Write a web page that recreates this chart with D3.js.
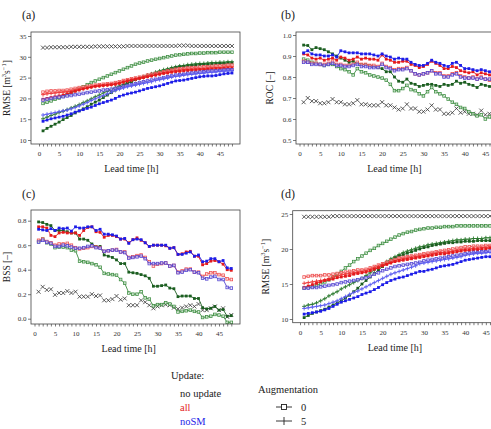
<!DOCTYPE html>
<html lang="en">
<head>
<meta charset="UTF-8">
<title>Skill vs lead time</title>
<script src="https://d3js.org/d3.v7.min.js"></script>
<style>
  body { margin: 0; background: #fff; }
  svg, svg text { font-family: "Liberation Serif", serif; }
</style>
</head>
<body>
<div id="chart"></div>
<script>
// lead time in hours
const leadTime = d3.range(1, 49);

// ---- (a) RMSE ----
const blackA = [32.2,32.2,32.3,32.3,32.3,32.3,32.3,32.4, 32.4,32.4,32.4,32.4,32.4,32.5,32.5,32.5,
  32.5,32.5,32.5,32.5,32.5,32.6,32.6,32.6, 32.6,32.6,32.6,32.6,32.6,32.6,32.6,32.6,
  32.6,32.6,32.7,32.7,32.7,32.6,32.6,32.6, 32.6,32.6,32.6,32.6,32.6,32.6,32.6,32.6];
const greenSqA = [18.8,19.1,19.4,19.8,20.1,20.5,20.9,21.4, 21.9,22.3,22.8,23.3,23.8,24.2,24.6,25.0,
  25.4,25.8,26.2,26.6,27.0,27.4,27.8,28.2, 28.5,28.7,29.0,29.2,29.4,29.6,29.8,30.0,
  30.2,30.4,30.5,30.6,30.7,30.8,30.8,30.9, 30.9,31.0,31.0,31.0,31.1,31.1,31.1,31.1];
const greenPlusA = [15.1,15.5,15.9,16.2,16.6,16.9,17.3,17.7, 18.1,18.5,19.0,19.4,19.9,20.4,20.8,21.3,
  21.7,22.1,22.6,23.0,23.4,23.8,24.2,24.6, 24.9,25.2,25.6,25.9,26.3,26.6,26.9,27.1,
  27.4,27.6,27.8,27.9,28.1,28.2,28.3,28.4, 28.4,28.5,28.6,28.6,28.7,28.7,28.8,28.8];
const darkGreenA = [12.2,12.8,13.3,13.8,14.3,14.9,15.4,15.9, 16.5,17.0,17.5,18.0,18.6,19.1,19.6,20.2,
  20.8,21.4,22.0,22.6,23.1,23.6,24.0,24.5, 24.9,25.2,25.5,25.8,26.0,26.3,26.5,26.8,
  27.1,27.4,27.6,27.7,27.8,27.9,28.0,28.1, 28.2,28.2,28.3,28.3,28.4,28.4,28.5,28.5];
const redSqA = [21.5,21.7,21.8,21.8,21.9,21.9,22.0,22.2, 22.4,22.6,22.7,22.9,23.0,23.2,23.3,23.4,
  23.5,23.6,23.8,24.0,24.3,24.5,24.7,24.9, 25.1,25.3,25.6,25.8,26.0,26.2,26.4,26.6,
  26.8,27.0,27.1,27.2,27.3,27.4,27.4,27.5, 27.6,27.6,27.7,27.8,27.8,27.9,28.0,28.0];
const redPlusA = [20.9,21.1,21.2,21.3,21.4,21.5,21.6,21.8, 22.0,22.2,22.3,22.5,22.7,22.9,23.0,23.1,
  23.2,23.3,23.5,23.7,24.0,24.2,24.4,24.6, 24.8,25.0,25.3,25.5,25.7,25.9,26.1,26.3,
  26.5,26.7,26.8,26.9,27.0,27.0,27.1,27.1, 27.2,27.3,27.3,27.4,27.4,27.5,27.6,27.6];
const redFillA = [19.8,20.0,20.2,20.4,20.6,20.8,21.1,21.4, 21.7,22.0,22.3,22.5,22.7,22.9,23.0,23.1,
  23.2,23.3,23.4,23.6,23.9,24.2,24.4,24.6, 24.8,25.0,25.2,25.4,25.6,25.8,26.0,26.1,
  26.3,26.4,26.5,26.6,26.7,26.8,26.8,26.9, 26.9,27.0,27.0,27.1,27.1,27.2,27.2,27.2];
const blueSqA = [19.6,19.8,20.0,20.2,20.3,20.4,20.6,20.7, 20.9,21.0,21.2,21.4,21.5,21.7,21.8,22.0,
  22.1,22.2,22.4,22.6,22.9,23.1,23.3,23.5, 23.8,24.0,24.2,24.4,24.6,24.8,25.0,25.2,
  25.4,25.6,25.7,25.8,26.0,26.1,26.2,26.3, 26.4,26.5,26.6,26.6,26.7,26.8,26.9,26.9];
const bluePlusA = [16.0,16.2,16.4,16.6,16.8,17.0,17.2,17.5, 17.8,18.2,18.6,19.0,19.5,19.9,20.3,20.7,
  21.1,21.5,21.9,22.2,22.5,22.8,23.0,23.2, 23.4,23.6,23.8,24.0,24.3,24.5,24.7,24.9,
  25.1,25.3,25.4,25.6,25.7,25.8,25.9,26.0, 26.1,26.2,26.3,26.4,26.5,26.6,26.6,26.7];
const blueFillA = [14.5,14.8,15.1,15.3,15.5,15.7,16.0,16.3, 16.7,17.0,17.3,17.6,17.9,18.3,18.7,19.0,
  19.3,19.6,20.0,20.5,20.8,21.1,21.3,21.5, 21.8,22.1,22.4,22.6,22.8,23.0,23.3,23.6,
  23.9,24.2,24.3,24.4,24.6,24.8,25.0,25.2, 25.3,25.4,25.4,25.5,25.7,25.9,26.0,26.1];

// ---- (b) ROC ----
const blackB = [0.68,0.70,0.685,0.685,0.675,0.675,0.68,0.695, 0.68,0.68,0.67,0.67,0.675,0.69,0.67,0.67,
  0.665,0.665,0.665,0.68,0.665,0.665,0.655,0.645, 0.65,0.67,0.65,0.65,0.635,0.635,0.645,0.665,
  0.645,0.645,0.625,0.625,0.63,0.65,0.63,0.635, 0.625,0.625,0.62,0.64,0.62,0.625,0.63,0.62];
const darkGreenB = [0.952,0.95,0.93,0.94,0.935,0.93,0.92,0.91, 0.90,0.89,0.88,0.87,0.875,0.865,0.86,0.86,
  0.855,0.85,0.845,0.84,0.825,0.825,0.80,0.78, 0.775,0.79,0.77,0.765,0.755,0.76,0.765,0.765,
  0.76,0.755,0.765,0.76,0.765,0.78,0.77,0.775, 0.765,0.76,0.75,0.765,0.76,0.755,0.75,0.75];
const greenSqB = [0.885,0.88,0.87,0.865,0.86,0.855,0.86,0.86, 0.85,0.84,0.835,0.825,0.81,0.84,0.825,0.82,
  0.81,0.805,0.80,0.795,0.785,0.765,0.735,0.735, 0.745,0.76,0.74,0.735,0.72,0.71,0.73,0.75,
  0.73,0.72,0.71,0.695,0.68,0.67,0.655,0.65, 0.635,0.625,0.615,0.62,0.60,0.61,0.59,0.585];
const redSqB = [0.875,0.87,0.865,0.865,0.86,0.86,0.865,0.875, 0.86,0.86,0.855,0.855,0.86,0.87,0.86,0.86,
  0.855,0.855,0.85,0.865,0.85,0.845,0.835,0.84, 0.84,0.845,0.83,0.815,0.81,0.815,0.82,0.83,
  0.82,0.82,0.805,0.805,0.815,0.82,0.805,0.80, 0.795,0.80,0.79,0.80,0.79,0.785,0.775,0.77];
const redFillB = [0.91,0.905,0.89,0.885,0.89,0.88,0.885,0.89, 0.88,0.895,0.89,0.88,0.885,0.895,0.885,0.89,
  0.885,0.885,0.88,0.905,0.885,0.88,0.87,0.87, 0.875,0.875,0.86,0.855,0.845,0.85,0.86,0.875,
  0.865,0.855,0.84,0.84,0.85,0.845,0.83,0.825, 0.82,0.825,0.81,0.82,0.815,0.81,0.80,0.80];
const blueSqB = [0.87,0.87,0.86,0.86,0.86,0.855,0.86,0.865, 0.855,0.855,0.85,0.85,0.855,0.86,0.85,0.85,
  0.845,0.845,0.845,0.86,0.845,0.84,0.83,0.835, 0.835,0.84,0.83,0.815,0.81,0.815,0.82,0.83,
  0.815,0.815,0.80,0.80,0.81,0.815,0.80,0.795, 0.795,0.795,0.79,0.795,0.79,0.79,0.785,0.785];
const blueFillB = [0.915,0.925,0.91,0.905,0.905,0.90,0.90,0.905, 0.895,0.925,0.92,0.915,0.915,0.915,0.91,0.91,
  0.91,0.905,0.90,0.91,0.90,0.895,0.885,0.89, 0.885,0.885,0.87,0.86,0.855,0.855,0.865,0.88,
  0.87,0.865,0.855,0.85,0.865,0.87,0.855,0.84, 0.84,0.835,0.83,0.835,0.83,0.825,0.82,0.82];

// ---- (c) BSS ----
const blackC = [0.22,0.26,0.235,0.24,0.195,0.21,0.21,0.225, 0.21,0.22,0.18,0.18,0.18,0.20,0.185,0.19,
  0.15,0.15,0.16,0.185,0.155,0.165,0.11,0.11, 0.11,0.15,0.135,0.11,0.085,0.10,0.11,0.115,
  0.11,0.09,0.08,0.09,0.10,0.11,0.10,0.12, 0.07,0.07,0.085,0.10,0.07,0.085,0.015,0.03];
const darkGreenC = [0.79,0.785,0.77,0.76,0.72,0.72,0.72,0.71, 0.70,0.70,0.65,0.65,0.64,0.61,0.59,0.59,
  0.52,0.51,0.50,0.48,0.45,0.45,0.38,0.375, 0.37,0.36,0.35,0.33,0.265,0.265,0.27,0.275,
  0.25,0.245,0.18,0.185,0.185,0.185,0.165,0.165, 0.09,0.08,0.085,0.10,0.07,0.075,0.02,0.025];
const greenSqC = [0.63,0.65,0.62,0.61,0.58,0.585,0.585,0.58, 0.56,0.555,0.47,0.465,0.46,0.45,0.44,0.42,
  0.37,0.365,0.36,0.355,0.32,0.29,0.21,0.20, 0.20,0.22,0.17,0.16,0.105,0.115,0.115,0.13,
  0.12,0.10,0.055,0.06,0.065,0.07,0.06,0.055, 0.01,0.015,0.02,0.035,0.03,0.02,-0.03,-0.03];
const redSqC = [0.64,0.65,0.63,0.62,0.60,0.61,0.61,0.615, 0.60,0.58,0.57,0.575,0.58,0.59,0.585,0.58,
  0.55,0.555,0.56,0.565,0.545,0.545,0.50,0.505, 0.515,0.52,0.50,0.465,0.43,0.445,0.45,0.455,
  0.43,0.435,0.38,0.39,0.405,0.405,0.38,0.38, 0.345,0.365,0.375,0.375,0.36,0.355,0.325,0.32];
const redFillC = [0.75,0.75,0.74,0.68,0.67,0.70,0.705,0.70, 0.70,0.70,0.68,0.72,0.745,0.75,0.71,0.705,
  0.665,0.68,0.68,0.67,0.65,0.65,0.62,0.645, 0.66,0.64,0.62,0.59,0.60,0.60,0.60,0.595,
  0.575,0.58,0.525,0.53,0.545,0.55,0.51,0.51, 0.44,0.45,0.47,0.475,0.465,0.445,0.40,0.395];
const blueSqC = [0.625,0.64,0.625,0.615,0.59,0.59,0.60,0.595, 0.585,0.575,0.575,0.58,0.59,0.595,0.58,0.575,
  0.55,0.555,0.56,0.56,0.545,0.54,0.495,0.50, 0.505,0.51,0.49,0.45,0.45,0.45,0.455,0.455,
  0.43,0.435,0.375,0.38,0.395,0.40,0.38,0.375, 0.33,0.325,0.34,0.345,0.32,0.32,0.255,0.25];
const blueFillC = [0.73,0.725,0.72,0.735,0.72,0.74,0.735,0.74, 0.715,0.75,0.74,0.74,0.75,0.75,0.72,0.73,
  0.69,0.69,0.685,0.675,0.65,0.655,0.615,0.645, 0.65,0.645,0.62,0.59,0.60,0.60,0.60,0.60,
  0.575,0.58,0.525,0.525,0.535,0.545,0.51,0.52, 0.465,0.47,0.49,0.49,0.465,0.475,0.415,0.41];

// ---- (d) RMSE ----
const blackD = [24.6,24.6,24.6,24.6,24.6,24.6,24.6,24.7, 24.7,24.7,24.7,24.7,24.7,24.7,24.7,24.7,
  24.7,24.7,24.7,24.7,24.7,24.7,24.7,24.7, 24.7,24.7,24.7,24.7,24.7,24.7,24.7,24.7,
  24.7,24.7,24.7,24.7,24.7,24.7,24.7,24.7, 24.7,24.7,24.7,24.7,24.7,24.7,24.7,24.7];
const greenSqD = [14.4,14.5,14.6,14.8,15.0,15.3,15.6,16.0, 16.4,16.8,17.3,17.7,18.2,18.6,19.0,19.4,
  19.8,20.1,20.5,20.8,21.1,21.4,21.7,22.0, 22.2,22.4,22.5,22.7,22.8,22.9,23.0,23.0,
  23.1,23.1,23.2,23.2,23.2,23.3,23.3,23.3, 23.3,23.3,23.3,23.3,23.3,23.3,23.3,23.3];
const greenPlusD = [11.8,12.0,12.1,12.3,12.6,12.9,13.3,13.6, 13.9,14.3,14.6,14.9,15.2,15.5,15.8,16.2,
  16.6,17.0,17.4,17.8,18.2,18.6,18.9,19.2, 19.5,19.7,19.9,20.1,20.3,20.4,20.6,20.7,
  20.8,20.9,21.0,21.1,21.2,21.3,21.3,21.4, 21.4,21.5,21.5,21.5,21.6,21.6,21.6,21.6];
const darkGreenD = [10.2,10.5,10.8,11.0,11.2,11.4,11.7,12.0, 12.3,12.6,13.0,13.4,13.9,14.4,15.0,15.5,
  16.0,16.5,17.0,17.5,17.9,18.3,18.7,19.0, 19.2,19.4,19.6,19.8,20.0,20.2,20.3,20.5,
  20.6,20.7,20.8,20.9,20.9,21.0,21.0,21.1, 21.1,21.1,21.2,21.2,21.2,21.2,21.2,21.2];
const redSqD = [16.0,16.1,16.2,16.2,16.2,16.3,16.3,16.4, 16.5,16.6,16.7,16.8,16.9,17.0,17.0,17.1,
  17.3,17.5,17.7,17.9,18.1,18.3,18.5,18.7, 18.8,18.9,19.0,19.1,19.2,19.3,19.4,19.5,
  19.6,19.7,19.8,19.9,20.0,20.1,20.2,20.3, 20.3,20.4,20.4,20.4,20.5,20.5,20.5,20.5];
const redPlusD = [15.1,15.2,15.3,15.4,15.5,15.6,15.8,16.0, 16.1,16.3,16.4,16.5,16.6,16.7,16.8,16.9,
  17.1,17.3,17.5,17.7,17.9,18.1,18.3,18.5, 18.6,18.7,18.8,18.9,19.0,19.1,19.2,19.3,
  19.4,19.5,19.5,19.6,19.7,19.8,19.9,20.0, 20.0,20.1,20.1,20.2,20.2,20.3,20.3,20.3];
const redFillD = [14.5,14.7,14.9,15.1,15.3,15.5,15.6,15.7, 15.9,16.0,16.1,16.2,16.4,16.5,16.6,16.7,
  16.9,17.1,17.3,17.6,17.8,18.0,18.2,18.3, 18.4,18.5,18.6,18.7,18.8,18.9,19.0,19.1,
  19.2,19.3,19.3,19.4,19.5,19.6,19.7,19.8, 19.8,19.9,19.9,20.0,20.0,20.1,20.1,20.1];
const blueSqD = [14.4,14.4,14.5,14.5,14.6,14.7,14.8,14.9, 15.0,15.2,15.3,15.4,15.5,15.6,15.8,15.9,
  16.1,16.4,16.6,16.9,17.1,17.3,17.5,17.6, 17.7,17.8,17.9,18.0,18.1,18.3,18.4,18.5,
  18.6,18.7,18.8,18.9,19.0,19.1,19.2,19.3, 19.4,19.5,19.5,19.6,19.6,19.7,19.7,19.8];
const bluePlusD = [11.5,11.6,11.7,11.8,11.9,12.0,12.2,12.4, 12.6,12.9,13.2,13.5,13.8,14.0,14.3,14.6,
  14.9,15.2,15.5,15.8,16.1,16.4,16.6,16.8, 17.0,17.2,17.4,17.6,17.9,18.0,18.1,18.2,
  18.3,18.4,18.5,18.6,18.7,18.8,18.9,19.1, 19.2,19.3,19.4,19.4,19.5,19.5,19.6,19.6];
const blueFillD = [10.7,10.8,10.9,11.0,11.1,11.3,11.5,11.8, 12.1,12.4,12.6,12.8,13.0,13.2,13.5,13.7,
  13.9,14.2,14.5,14.9,15.2,15.5,15.7,15.9, 16.0,16.2,16.4,16.6,16.8,16.8,17.0,17.1,
  17.3,17.5,17.6,17.7,17.8,18.0,18.2,18.4, 18.5,18.6,18.7,18.8,18.9,18.9,19.0,19.0];

// legend entries
const updateNames = ["no update", "all", "noSM"];
const augLevels = ["0", "5"];

var FONT = "Liberation Serif, serif";

// colours / marker per series kind
var style = {
  black:     {color: "#333333", marker: "x",      line: false},
  greenSq:   {color: "#3f8f43", marker: "square", line: true},
  greenPlus: {color: "#2d7a30", marker: "plus",   line: true},
  darkGreen: {color: "#1b5e20", marker: "fill",   line: true},
  redSq:     {color: "#ee5050", marker: "square", line: true},
  redPlus:   {color: "#ee3a3a", marker: "plus",   line: true},
  redFill:   {color: "#e41a1c", marker: "fill",   line: true},
  blueSq:    {color: "#5546d2", marker: "square", line: true},
  bluePlus:  {color: "#5c5cf0", marker: "plus",   line: true},
  blueFill:  {color: "#1c1ce8", marker: "fill",   line: true}
};

var panels = [
  {label: "(a)", lx: 22, ly: 19, box: [31, 32, 240, 144], x0: 39, ppu: 4.02,
   yTicks: [10, 15, 20, 25, 30, 35], yPix: [140, 36], fmt: d3.format("d"), ytitle: "rmse", ytx: 10,
   series: [["black", blackA], ["greenSq", greenSqA], ["greenPlus", greenPlusA], ["darkGreen", darkGreenA],
            ["redSq", redSqA], ["redPlus", redPlusA], ["redFill", redFillA],
            ["blueSq", blueSqA], ["bluePlus", bluePlusA], ["blueFill", blueFillA]]},
  {label: "(b)", lx: 281, ly: 19, box: [296, 32, 506, 144], x0: 299.5, ppu: 4.13,
   yTicks: [0.5, 0.6, 0.7, 0.8, 0.9, 1.0], yPix: [140, 35], fmt: d3.format(".1f"), ytitle: "ROC [\u2013]", ytx: 273,
   series: [["black", blackB], ["greenSq", greenSqB], ["darkGreen", darkGreenB],
            ["redSq", redSqB], ["redFill", redFillB], ["blueSq", blueSqB], ["blueFill", blueFillB]]},
  {label: "(c)", lx: 22, ly: 198, box: [31, 210, 240, 324], x0: 34.5, ppu: 4.1,
   yTicks: [0.0, 0.2, 0.4, 0.6, 0.8], yPix: [318.7, 220.7], fmt: d3.format(".1f"), ytitle: "BSS [\u2013]", ytx: 10,
   series: [["black", blackC], ["greenSq", greenSqC], ["darkGreen", darkGreenC],
            ["redSq", redSqC], ["redFill", redFillC], ["blueSq", blueSqC], ["blueFill", blueFillC]]},
  {label: "(d)", lx: 281, ly: 198, box: [292.7, 210.7, 506, 322.7], x0: 300, ppu: 4.13,
   yTicks: [10, 15, 20, 25], yPix: [319, 214], fmt: d3.format("d"), ytitle: "rmse", ytx: 269,
   series: [["black", blackD], ["greenSq", greenSqD], ["greenPlus", greenPlusD], ["darkGreen", darkGreenD],
            ["redSq", redSqD], ["redPlus", redPlusD], ["redFill", redFillD],
            ["blueSq", blueSqD], ["bluePlus", bluePlusD], ["blueFill", blueFillD]]}
];

const svg = d3.select("#chart").append("svg")
  .attr("width", 491)
  .attr("height", 429)
  .attr("font-family", FONT);

function drawMarker(sel, kind, color) {
  if (kind === "square") {
    sel.append("rect").attr("x", -1.3).attr("y", -1.3).attr("width", 2.6).attr("height", 2.6)
      .attr("fill", "#fff").attr("fill-opacity", 0.5).attr("stroke", color).attr("stroke-width", 0.8);
  } else if (kind === "plus") {
    sel.append("path").attr("d", "M-2,0H2M0,-2V2")
      .attr("stroke", color).attr("stroke-width", 0.9).attr("fill", "none");
  } else if (kind === "fill") {
    sel.append("rect").attr("x", -1.4).attr("y", -1.4).attr("width", 2.8).attr("height", 2.8)
      .attr("fill", color);
  } else {
    sel.append("path").attr("d", "M-2,-2L2,2M-2,2L2,-2")
      .attr("stroke", color).attr("stroke-width", 0.8).attr("fill", "none");
  }
}

panels.forEach(function(p, pi) {
  var b = p.box;
  var x = d3.scaleLinear().domain([0, 45]).range([p.x0, p.x0 + 45 * p.ppu]);
  var y = d3.scaleLinear().domain([p.yTicks[0], p.yTicks[p.yTicks.length - 1]]).range(p.yPix);

  var g = svg.append("g");

  // panel letter
  g.append("text").attr("x", p.lx).attr("y", p.ly)
    .attr("font-size", 12).attr("fill", "#222").text(p.label);

  g.append("clipPath").attr("id", "clip" + pi)
    .append("rect").attr("x", b[0]).attr("y", b[1]).attr("width", b[2] - b[0]).attr("height", b[3] - b[1]);

  // y axis
  var ya = g.append("g").attr("transform", "translate(" + b[0] + ",0)")
    .call(d3.axisLeft(y).tickValues(p.yTicks).tickSize(3).tickPadding(1.5).tickFormat(p.fmt));
  ya.attr("font-family", FONT);
  ya.select(".domain").remove();
  ya.selectAll("text").attr("font-size", 7).attr("fill", "#333");
  ya.selectAll("line").attr("stroke", "#444").attr("stroke-width", 0.7);

  // x axis: a tick every hour, label every 5 h
  var xa = g.append("g").attr("transform", "translate(0," + b[3] + ")")
    .call(d3.axisBottom(x).tickValues(d3.range(0, 49)).tickSize(2.5).tickPadding(5)
      .tickFormat(d => (d % 5 === 0 && d <= 45) ? d : ""));
  xa.attr("font-family", FONT);
  xa.select(".domain").remove();
  xa.selectAll("text").attr("font-size", 7).attr("fill", "#333");
  xa.selectAll("line").attr("stroke", "#444").attr("stroke-width", 0.7);

  g.append("text").attr("x", (p.x0 + p.x0 + 45 * p.ppu) / 2 + 2).attr("y", b[3] + 28)
    .attr("text-anchor", "middle").attr("font-size", 10).attr("fill", "#222").text("Lead time [h]");

  // y title
  var yt = g.append("text")
    .attr("transform", "translate(" + p.ytx + "," + ((b[1] + b[3]) / 2) + ") rotate(-90)")
    .attr("text-anchor", "middle").attr("font-size", 9.5).attr("fill", "#222");
  if (p.ytitle === "rmse") {
    yt.append("tspan").text("RMSE [m");
    yt.append("tspan").attr("font-size", 6.5).attr("dy", -4).text("3");
    yt.append("tspan").attr("dy", 4).text("s");
    yt.append("tspan").attr("font-size", 6.5).attr("dy", -4).text("\u22121");
    yt.append("tspan").attr("dy", 4).text("]");
  } else {
    yt.text(p.ytitle);
  }

  // series
  var plot = g.append("g").attr("clip-path", "url(#clip" + pi + ")");
  var line = d3.line().x((d, i) => x(leadTime[i])).y(d => y(d));
  p.series.forEach(function(s) {
    var st = style[s[0]];
    if (st.line) {
      plot.append("path").datum(s[1]).attr("d", line)
        .attr("fill", "none").attr("stroke", st.color).attr("stroke-width", 0.9);
    }
    plot.append("g").selectAll("g").data(s[1]).enter().append("g")
      .attr("transform", (d, i) => "translate(" + x(leadTime[i]) + "," + y(d) + ")")
      .each(function() { drawMarker(d3.select(this), st.marker, st.color); });
  });

  // box
  g.append("rect").attr("x", b[0]).attr("y", b[1]).attr("width", b[2] - b[0]).attr("height", b[3] - b[1])
    .attr("fill", "none").attr("stroke", "#444").attr("stroke-width", 0.8);
});

// legend
var leg = svg.append("g").attr("font-size", 10.5);
leg.append("text").attr("x", 171).attr("y", 379).attr("fill", "#222").text("Update:");
var updColors = ["#222", "#e41a1c", "#1c1ce8"];
leg.selectAll(".upd").data(updateNames).enter().append("text")
  .attr("x", 180).attr("y", (d, i) => 397 + i * 14)
  .attr("fill", (d, i) => updColors[i]).text(d => d);

leg.append("text").attr("x", 258).attr("y", 393).attr("fill", "#222").text("Augmentation");
var aug = leg.selectAll(".aug").data(augLevels).enter().append("g")
  .attr("transform", (d, i) => "translate(284," + (407 + i * 14) + ")");
aug.append("line").attr("x1", -8).attr("x2", 8).attr("stroke", "#222").attr("stroke-width", 0.9);
aug.each(function(d, i) {
  var m = d3.select(this);
  if (i === 0) {
    m.append("rect").attr("x", -2.5).attr("y", -2.5).attr("width", 5).attr("height", 5)
      .attr("fill", "#fff").attr("stroke", "#222").attr("stroke-width", 0.9);
  } else {
    m.append("path").attr("d", "M0,-4V4").attr("stroke", "#222").attr("stroke-width", 0.9);
  }
});
aug.append("text").attr("x", 17).attr("y", 3.5).attr("fill", "#222").text(d => d);
</script>
</body>
</html>
